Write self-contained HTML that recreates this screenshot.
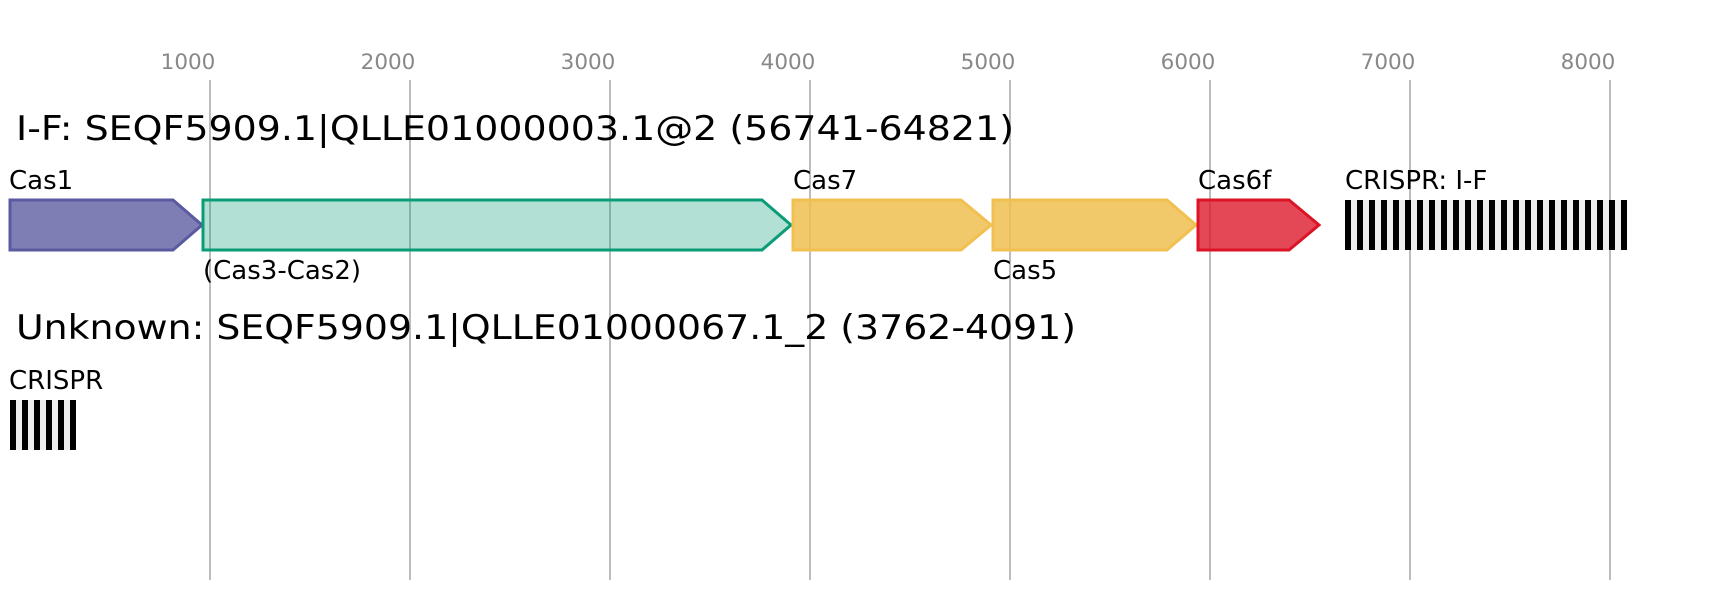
<!DOCTYPE html>
<html><head><meta charset="utf-8"><style>html,body{margin:0;padding:0;background:#fff}svg{display:block}</style></head>
<body>
<svg width="1716" height="600" viewBox="0 0 1716 600" xmlns="http://www.w3.org/2000/svg" font-family="DejaVu Sans, Liberation Sans, sans-serif">
<g stroke="#bdbdbd" stroke-width="2">
<line x1="210" y1="80" x2="210" y2="580"/><line x1="410" y1="80" x2="410" y2="580"/>
<line x1="610" y1="80" x2="610" y2="580"/><line x1="810" y1="80" x2="810" y2="580"/>
<line x1="1010" y1="80" x2="1010" y2="580"/><line x1="1210" y1="80" x2="1210" y2="580"/>
<line x1="1410" y1="80" x2="1410" y2="580"/><line x1="1610" y1="80" x2="1610" y2="580"/>
</g>
<g fill="#888" font-size="21.5" text-anchor="middle">
<text x="188" y="69">1000</text><text x="388" y="69">2000</text><text x="588" y="69">3000</text><text x="788" y="69">4000</text>
<text x="988" y="69">5000</text><text x="1188" y="69">6000</text><text x="1388" y="69">7000</text><text x="1588" y="69">8000</text>
</g>
<text x="16" y="140" font-size="34" textLength="998" lengthAdjust="spacingAndGlyphs">I-F: SEQF5909.1|QLLE01000003.1@2 (56741-64821)</text>
<g stroke-width="3">
<polygon points="10,200 173,200 202,225 173,250 10,250" fill="#5a5aa0" fill-opacity="0.78" stroke="#5a5aa0"/>
<polygon points="203,200 762,200 791,225 762,250 203,250" fill="#0a9b77" fill-opacity="0.31" stroke="#0a9b77"/>
<polygon points="793,200 961,200 991,225 961,250 793,250" fill="#f0c050" fill-opacity="0.85" stroke="#f0c050"/>
<polygon points="993,200 1167,200 1196,225 1167,250 993,250" fill="#f0c050" fill-opacity="0.85" stroke="#f0c050"/>
<polygon points="1198,200 1289,200 1319,225 1289,250 1198,250" fill="#dc1426" fill-opacity="0.78" stroke="#dc1426"/>
</g>
<g font-size="26">
<text x="9" y="189">Cas1</text>
<text x="203" y="279">(Cas3-Cas2)</text>
<text x="793" y="189">Cas7</text>
<text x="993" y="279">Cas5</text>
<text x="1198" y="189">Cas6f</text>
<text x="1345" y="189">CRISPR: I-F</text>
</g>
<rect x="1345" y="200" width="282" height="50" fill="#eeeeee"/>
<g fill="#000">
<rect x="1345" y="200" width="6" height="50"/><rect x="1357" y="200" width="6" height="50"/><rect x="1369" y="200" width="6" height="50"/><rect x="1381" y="200" width="6" height="50"/>
<rect x="1393" y="200" width="6" height="50"/><rect x="1405" y="200" width="6" height="50"/><rect x="1417" y="200" width="6" height="50"/><rect x="1429" y="200" width="6" height="50"/>
<rect x="1441" y="200" width="6" height="50"/><rect x="1453" y="200" width="6" height="50"/><rect x="1465" y="200" width="6" height="50"/><rect x="1477" y="200" width="6" height="50"/>
<rect x="1489" y="200" width="6" height="50"/><rect x="1501" y="200" width="6" height="50"/><rect x="1513" y="200" width="6" height="50"/><rect x="1525" y="200" width="6" height="50"/>
<rect x="1537" y="200" width="6" height="50"/><rect x="1549" y="200" width="6" height="50"/><rect x="1561" y="200" width="6" height="50"/><rect x="1573" y="200" width="6" height="50"/>
<rect x="1585" y="200" width="6" height="50"/><rect x="1597" y="200" width="6" height="50"/><rect x="1609" y="200" width="6" height="50"/><rect x="1621" y="200" width="6" height="50"/>
</g>
<text x="16" y="339" font-size="34" textLength="1060" lengthAdjust="spacingAndGlyphs">Unknown: SEQF5909.1|QLLE01000067.1_2 (3762-4091)</text>
<text x="9" y="389" font-size="26">CRISPR</text>
<rect x="10" y="400" width="66" height="50" fill="#eeeeee"/>
<g fill="#000">
<rect x="10" y="400" width="6" height="50"/><rect x="22" y="400" width="6" height="50"/><rect x="34" y="400" width="6" height="50"/>
<rect x="46" y="400" width="6" height="50"/><rect x="58" y="400" width="6" height="50"/><rect x="70" y="400" width="6" height="50"/>
</g>
</svg>
</body></html>
